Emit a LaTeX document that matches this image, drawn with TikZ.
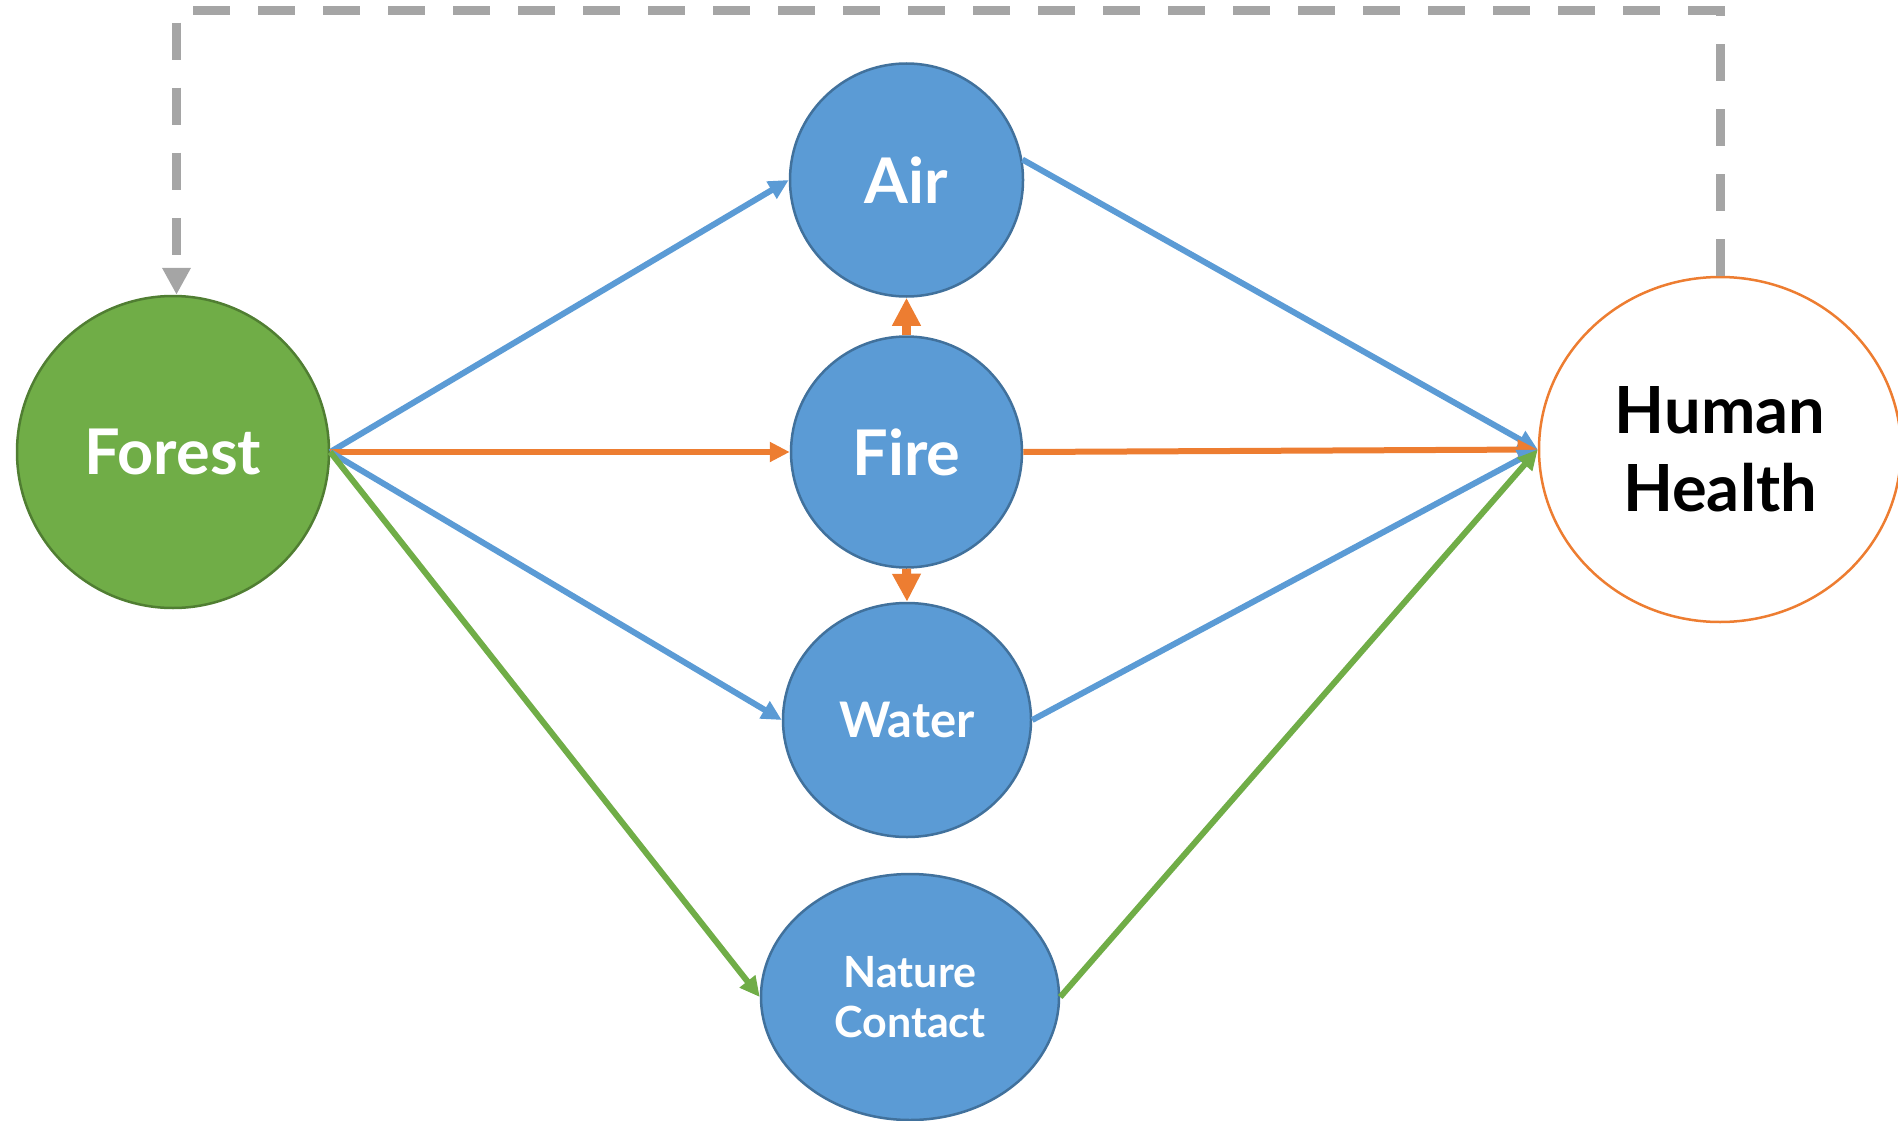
\documentclass[tikz,border=0pt]{standalone}
\usepackage{fontspec}
\setmainfont{Lato}
\usetikzlibrary{arrows.meta,shapes.geometric}
\definecolor{cblue}{HTML}{5B9BD5}
\definecolor{cblueb}{HTML}{41719C}
\definecolor{corange}{HTML}{ED7D31}
\definecolor{cgreen}{HTML}{70AD47}
\definecolor{cgreenb}{HTML}{507E32}
\definecolor{cgray}{HTML}{A5A5A5}
\begin{document}
\begin{tikzpicture}[x=1pt,y=-1pt,
  bubble/.style={fill=cblue,draw=cblueb,line width=2.5pt,text=white,inner sep=0pt,align=center},
  bigtext/.style={font=\fontsize{63}{70}\selectfont\bfseries},
  conn/.style={line width=6pt,-{Triangle[length=20pt,width=19pt]}},
  stub/.style={line width=9pt,draw=corange,-{Triangle[length=28pt,width=27pt]}},
  feedback/.style={draw=cgray,line width=9pt,dash pattern=on 37pt off 28pt,-{Triangle[length=27pt,width=27pt]}}
]
\useasboundingbox (0,0) rectangle (1898,1121);

\node[circle,minimum size=312pt,fill=cgreen,draw=cgreenb,line width=2.5pt,text=white,inner sep=0pt,bigtext] (forest) at (173,452) {Forest};
\node[bubble,circle,minimum size=233pt,bigtext] (air) at (906.5,180) {Air};
\node[bubble,circle,minimum size=231pt,bigtext] (fire) at (906.5,452) {Fire};
\node[bubble,ellipse,minimum width=248pt,minimum height=234pt,font=\fontsize{49}{56}\selectfont\bfseries] (water) at (907,720) {Water};
\node[bubble,ellipse,minimum width=298pt,minimum height=246pt,font=\fontsize{43}{50}\selectfont\bfseries] (nc) at (910,997) {Nature\\Contact};
\node[ellipse,minimum width=362pt,minimum height=345pt,fill=white,draw=corange,line width=2.5pt,inner sep=0pt,align=center,font=\fontsize{65}{78}\selectfont\bfseries] (hh) at (1720,449.5) {Human\\Health};

\coordinate (top) at (0,11);

% forest to mediators
\draw[conn,draw=cblue] (forest.east) -- (air.west);
\draw[conn,draw=corange] (forest.east) -- (fire.west);
\draw[conn,draw=cblue] (forest.east) -- (water.west);
\draw[conn,draw=cgreen] (forest.east) -- (nc.west);

% mediators to human health
\draw[conn,draw=cblue] (air.10) -- (hh.west);
\draw[conn,draw=corange] (fire.east) -- (hh.west);
\draw[conn,draw=cblue] (water.east) -- (hh.west);
\draw[conn,draw=cgreen] (nc.east) -- (hh.west);

% fire effects
\draw[stub] (fire.north) -- (air.south);
\draw[stub] (fire.south) -- (water.north);

% feedback
\draw[feedback] (hh.north) -- (hh.north |- top) -- ([xshift=3.5pt]forest.north |- top) -- ([xshift=3.5pt]forest.north);
\end{tikzpicture}
\end{document}
